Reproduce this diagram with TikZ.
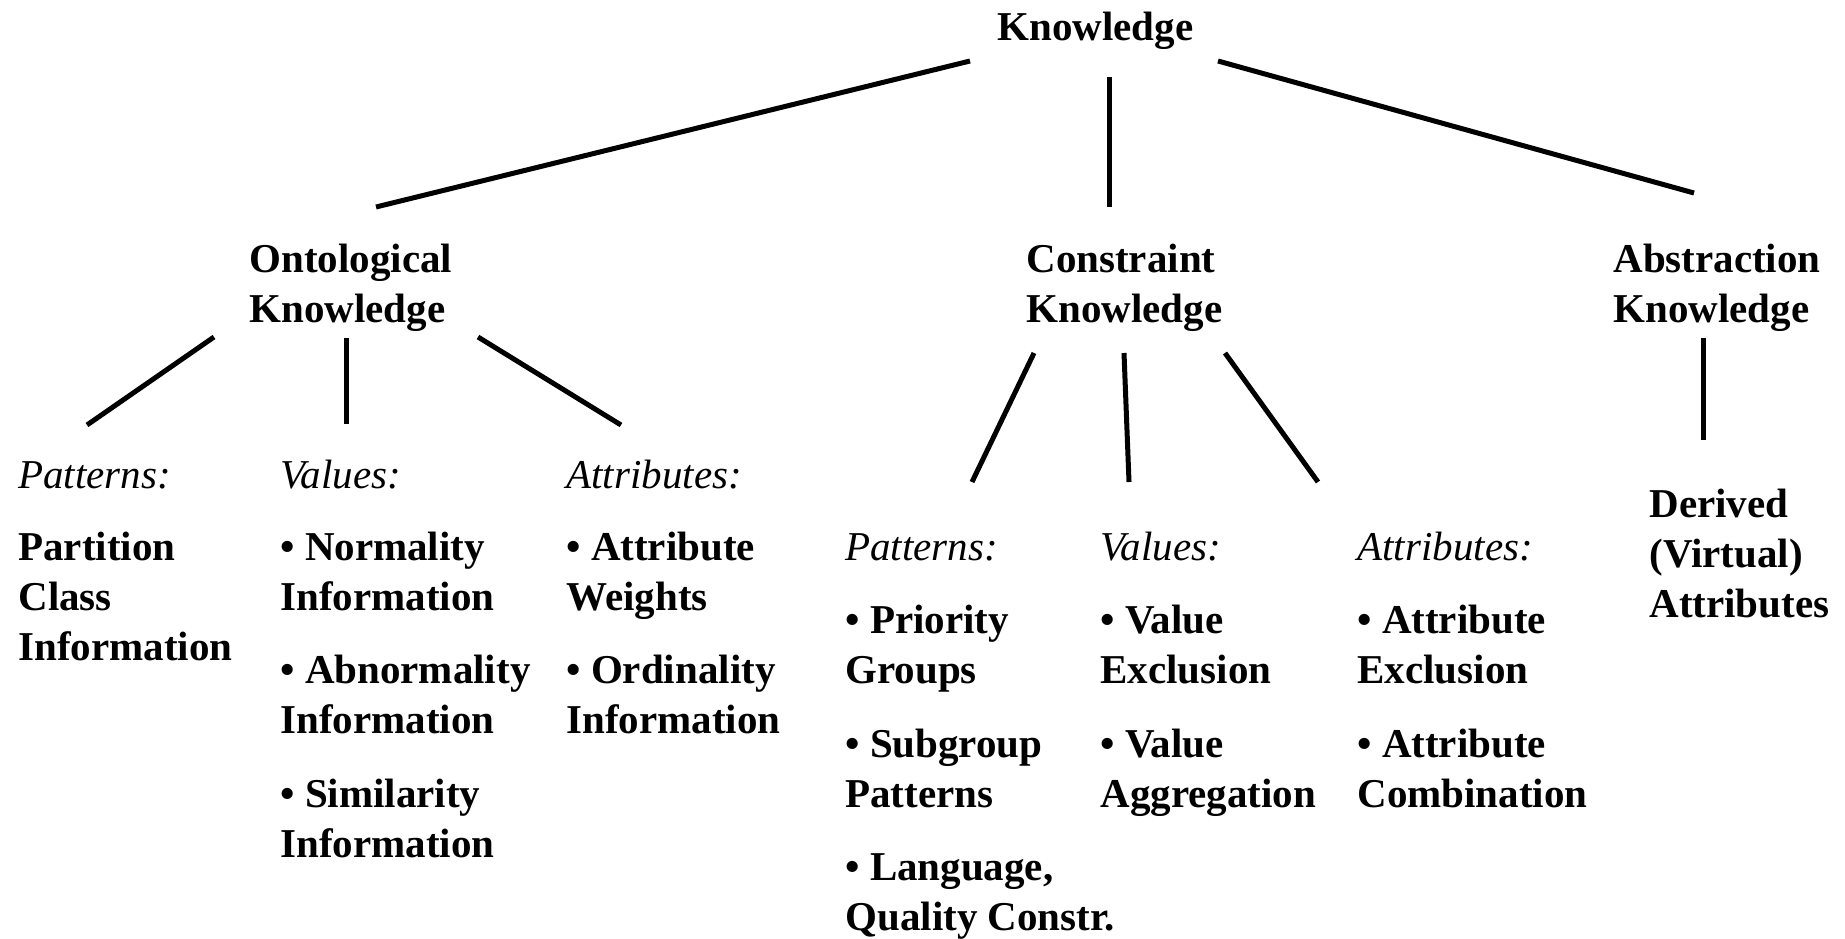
\documentclass[tikz,border=0pt]{standalone}
\usepackage{fontspec}
\setmainfont{Liberation Serif}
\usepackage{tikz}
\usetikzlibrary{calc}

% lines of one entry, baseline at the first line
\newcommand{\klines}[1]{\begin{tabular}[t]{@{}l@{}}#1\end{tabular}}

\begin{document}
\begin{tikzpicture}[
    x=0.5pt, y=-0.5pt,
    knode/.style={anchor=base west, inner sep=0pt, font=\fontsize{20.5}{25}\selectfont\bfseries},
    lnode/.style={anchor=base west, inner sep=0pt, font=\fontsize{20.5}{25}\selectfont\itshape},
    edge/.style={line width=2.5pt}
]
\useasboundingbox (0,0) rectangle (1845,938);

% top levels
\node[knode] (know) at (997,40) {Knowledge};
\node[knode] (onto) at (249,272) {\klines{Ontological\\Knowledge}};
\node[knode] (cons) at (1026,272) {\klines{Constraint\\Knowledge}};
\node[knode] (abst) at (1613,272) {\klines{Abstraction\\Knowledge}};

% ontological knowledge
\node[lnode] (opat) at (18,488) {Patterns:};
\node[lnode] (oval) at (280,488) {Values:};
\node[lnode] (oatt) at (566,488) {Attributes:};
\node[knode] (opart) at (18,560) {\klines{Partition\\Class\\Information}};
\node[knode] (onorm) at (280,560) {\klines{• Normality\\Information}};
\node[knode] (oabn) at (280,683) {\klines{• Abnormality\\Information}};
\node[knode] (osim) at (280,807) {\klines{• Similarity\\Information}};
\node[knode] (oatw) at (566,560) {\klines{• Attribute\\Weights}};
\node[knode] (oord) at (566,683) {\klines{• Ordinality\\Information}};

% constraint knowledge
\node[lnode] (cpat) at (845,560) {Patterns:};
\node[lnode] (cval) at (1100,560) {Values:};
\node[lnode] (catt) at (1357,560) {Attributes:};
\node[knode] (cpri) at (845,633) {\klines{• Priority\\Groups}};
\node[knode] (csub) at (845,757) {\klines{• Subgroup\\Patterns}};
\node[knode] (clang) at (845,880) {\klines{• Language,\\Quality Constr.}};
\node[knode] (cvex) at (1100,633) {\klines{• Value\\Exclusion}};
\node[knode] (cvag) at (1100,757) {\klines{• Value\\Aggregation}};
\node[knode] (caex) at (1357,633) {\klines{• Attribute\\Exclusion}};
\node[knode] (caco) at (1357,757) {\klines{• Attribute\\Combination}};

% abstraction knowledge
\node[knode] (deri) at (1649,517) {\klines{Derived\\(Virtual)\\Attributes}};

\draw[edge] ($(know.base west)+(-27,21)$) -- ($(onto.base west)+(127,-65)$);
\draw[edge] ($(know.base west)+(112,37)$) -- ($(cons.base west)+(83,-65)$);
\draw[edge] ($(know.base west)+(221,21)$) -- ($(abst.base west)+(81,-79)$);

\draw[edge] ($(onto.base west)+(-35,65)$) -- ($(opat.base west)+(69,-63)$);
\draw[edge] ($(onto.base west)+(97,66)$) -- ($(oval.base west)+(66,-64)$);
\draw[edge] ($(onto.base west)+(229,65)$) -- ($(oatt.base west)+(55,-63)$);

\draw[edge] ($(cons.base west)+(8,81)$) -- ($(cpat.base west)+(127,-78)$);
\draw[edge] ($(cons.base west)+(98,81)$) -- ($(cval.base west)+(29,-78)$);
\draw[edge] ($(cons.base west)+(199,81)$) -- ($(catt.base west)+(-39,-78)$);

\draw[edge] ($(abst.base west)+(90,66)$) -- ($(deri.base west)+(54,-77)$);
\end{tikzpicture}
\end{document}
